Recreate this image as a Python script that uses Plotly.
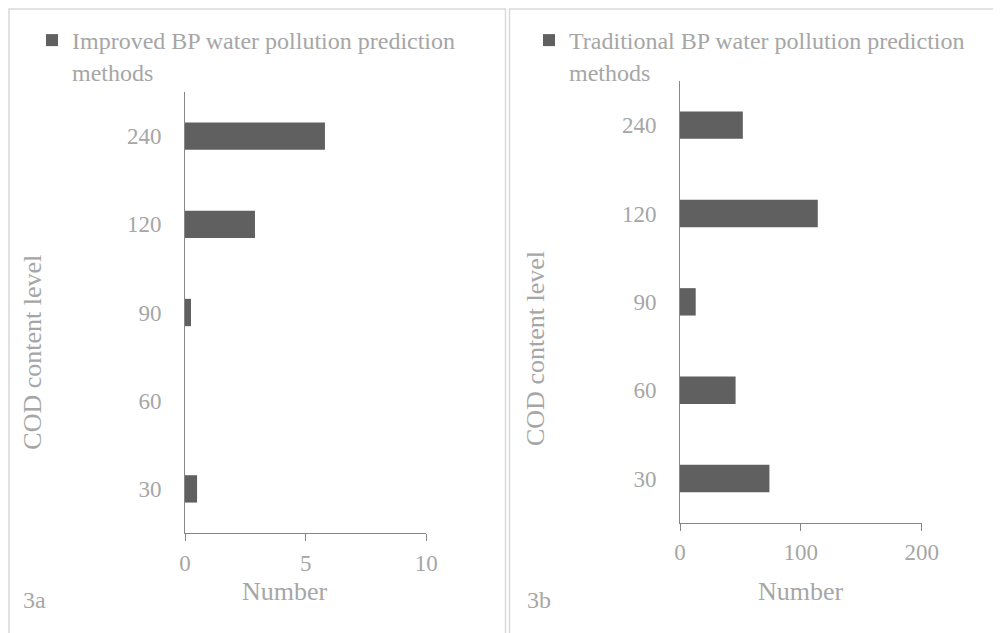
import plotly.graph_objects as go

categories = ["30", "60", "90", "120", "240"]
improved_values = [0.5, 0.0, 0.25, 2.9, 5.8]
traditional_values = [74, 46, 13, 114, 52]
improved_name = "Improved BP water pollution prediction<br>methods"
traditional_name = "Traditional BP water pollution prediction<br>methods"
left_ticks = [0, 5, 10]
right_ticks = [0, 100, 200]

W, H = 1001, 633
OFF = 8  # page body margin offset
TXT = "#a6a6a6"
AX = "#878787"
BAR = "#606060"
FONT = "Liberation Serif"

def px(x):
    return (x - OFF) / W

def py(y):
    return 1 - (y - OFF) / H

fig = go.Figure()
fig.add_trace(go.Bar(y=categories, x=improved_values, orientation="h",
                     name=improved_name, marker=dict(color=BAR, line=dict(width=0)),
                     width=0.31, xaxis="x", yaxis="y", legend="legend", showlegend=True))
fig.add_trace(go.Bar(y=categories, x=traditional_values, orientation="h",
                     name=traditional_name, marker=dict(color=BAR, line=dict(width=0)),
                     width=0.31, xaxis="x2", yaxis="y2", legend="legend2", showlegend=True))

xcommon = dict(showline=True, linecolor=AX, linewidth=1, ticks="outside", ticklen=7,
               tickcolor=AX, showgrid=False, zeroline=False, automargin=False,
               tickfont=dict(family=FONT, size=23, color=TXT), ticklabelstandoff=2)
ycommon = dict(type="category", showline=True, linecolor=AX, linewidth=1, ticks="",
               showgrid=False, zeroline=False, categoryorder="array", automargin=False,
               categoryarray=categories,
               tickfont=dict(family=FONT, size=23, color=TXT), ticklabelstandoff=18)

def ann(text, x, y, size=26, angle=0, xanchor="center"):
    return dict(text=text, xref="paper", yref="paper", x=px(x), y=py(y),
                xanchor=xanchor, yanchor="middle", textangle=angle, showarrow=False,
                font=dict(family=FONT, size=size, color=TXT))

fig.update_layout(
    width=W, height=H, autosize=False, margin=dict(l=0, r=0, t=0, b=0, pad=0),
    paper_bgcolor="white", plot_bgcolor="white", showlegend=True,
    font=dict(family=FONT, color=TXT),
    xaxis=dict(domain=[px(185), px(426.3)], range=[0, 10], tickvals=left_ticks,
               anchor="y", **xcommon),
    yaxis=dict(domain=[py(533), py(92)], anchor="x", range=[-0.5, 4.5], **ycommon),
    xaxis2=dict(domain=[px(680), px(921.7)], range=[0, 200], tickvals=right_ticks,
                anchor="y2", **xcommon),
    yaxis2=dict(domain=[py(522.7), py(81)], anchor="x2", range=[-0.5, 4.5], **ycommon),
    legend=dict(x=px(32), y=py(18), xanchor="left", yanchor="top", visible=True,
                font=dict(family=FONT, size=24, color=TXT), bgcolor="rgba(0,0,0,0)",
                valign="top", traceorder="normal"),
    legend2=dict(x=px(529), y=py(18), xanchor="left", yanchor="top", visible=True,
                 font=dict(family=FONT, size=24, color=TXT), bgcolor="rgba(0,0,0,0)",
                 valign="top", traceorder="normal"),
    shapes=[
        dict(type="rect", xref="paper", yref="paper", x0=px(9), x1=px(505.5),
             y0=py(9), y1=py(660), line=dict(color="#d9d9d9", width=1.5)),
        dict(type="rect", xref="paper", yref="paper", x0=px(509.5), x1=px(1020),
             y0=py(9), y1=py(660), line=dict(color="#d9d9d9", width=1.5)),
    ],
    annotations=[
        ann("Number", 284.7, 591.7),
        ann("Number", 800.8, 591.7),
        ann("COD content level", 31.7, 352, angle=-90),
        ann("COD content level", 535, 349, angle=-90),
        ann("3a", 34.5, 600, size=24),
        ann("3b", 539, 600, size=24),
    ],
)

fig.write_html("out.html")
